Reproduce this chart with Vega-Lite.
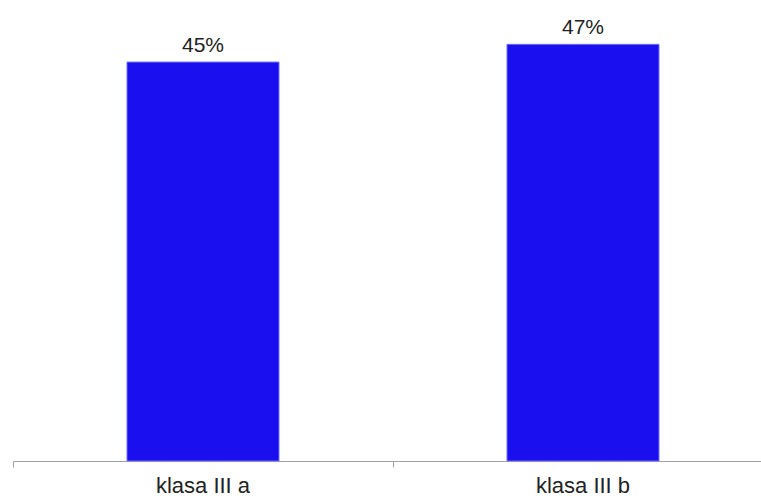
{
  "$schema": "https://vega.github.io/schema/vega-lite/v6.json",
  "width": 760,
  "height": 461,
  "autosize": {"type": "none"},
  "padding": {"left": 13, "top": 0, "right": 0, "bottom": 39},
  "background": "white",
  "config": {"view": {"stroke": null}, "font": "Liberation Sans"},
  "data": {"values": [
    {"klasa": "klasa III a", "value": 0.45},
    {"klasa": "klasa III b", "value": 0.47}
  ]},
  "encoding": {
    "x": {
      "field": "klasa", "type": "nominal", "sort": null,
      "scale": {"paddingInner": 0.6, "paddingOuter": 0.3},
      "axis": {
        "title": null, "labelAngle": 0, "bandPosition": -0.75,
        "labelFont": "Liberation Sans", "labelFontSize": 22, "labelColor": "#222",
        "labelPadding": 8, "domainColor": "#a0a0a0", "tickColor": "#a0a0a0",
        "tickSize": 6, "grid": false
      }
    },
    "y": {
      "field": "value", "type": "quantitative",
      "scale": {"domain": [0, 0.52]},
      "axis": null
    }
  },
  "layer": [
    {"mark": {"type": "bar", "color": "#1a0fef", "stroke": "#7070f8", "strokeWidth": 1}},
    {"mark": {"type": "text", "baseline": "alphabetic", "dy": -10, "fontSize": 21, "color": "#222", "font": "Liberation Sans"},
     "encoding": {"text": {"field": "value", "type": "quantitative", "format": ".0%"}}}
  ]
}
